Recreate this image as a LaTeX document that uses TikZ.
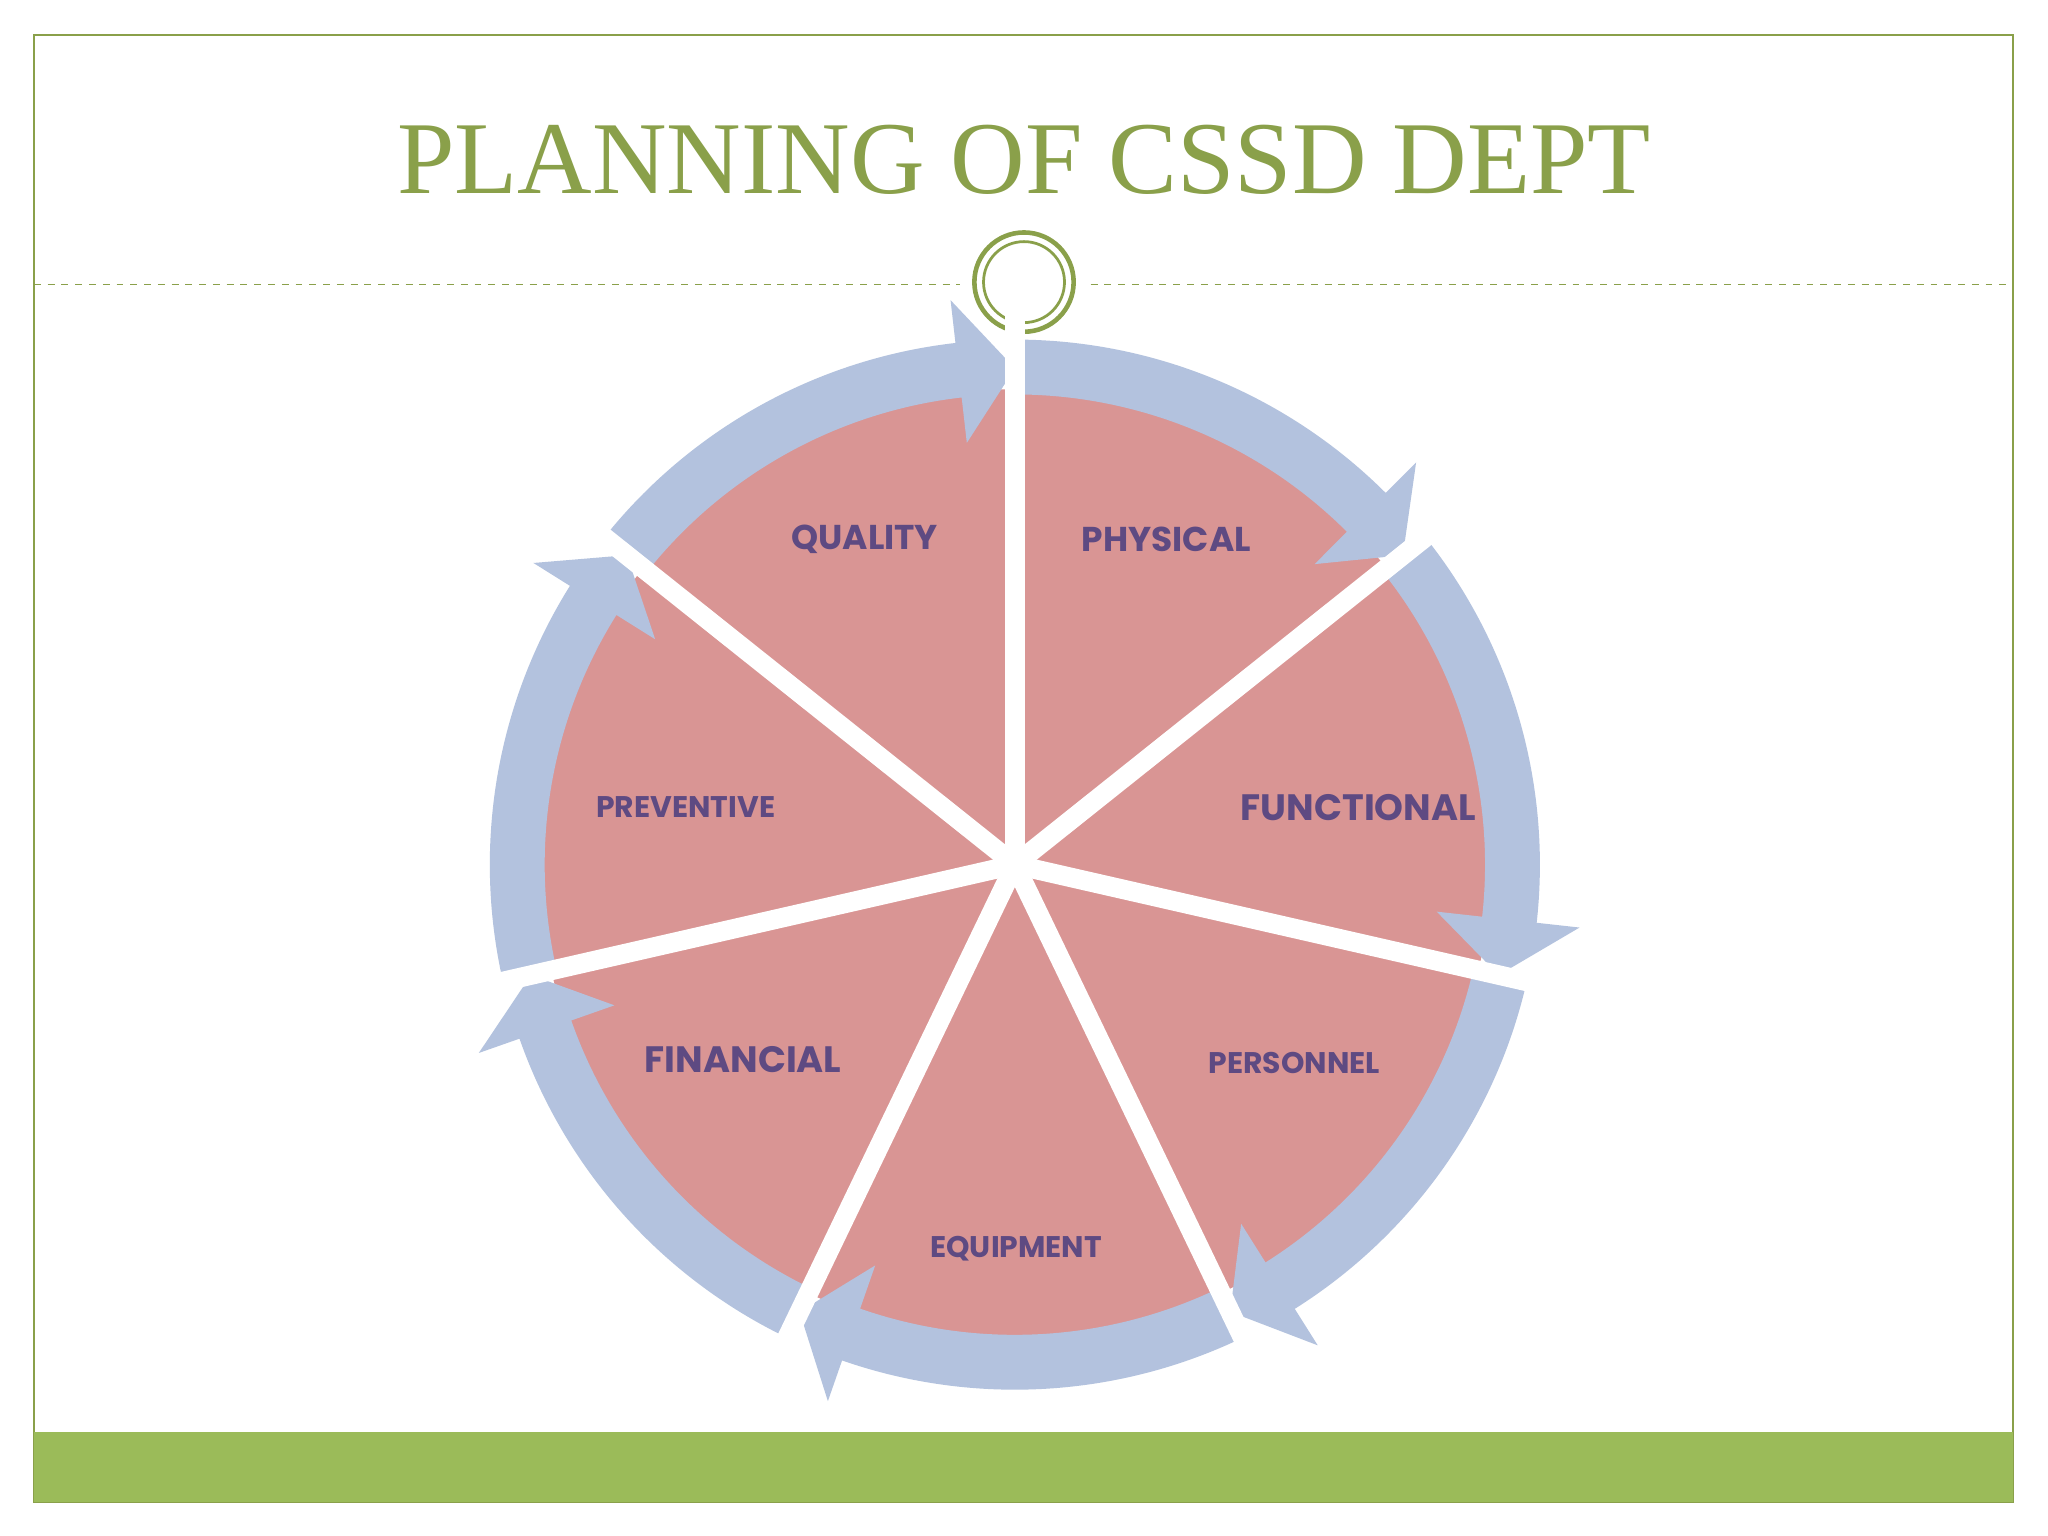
\documentclass[tikz,border=0pt]{standalone}
\usepackage{fontspec}
\setmainfont{Liberation Serif}
\newfontfamily\lblfont{Poppins}
\definecolor{olive}{HTML}{8AA04A}
\definecolor{barg}{HTML}{9BBB59}
\definecolor{ringb}{HTML}{B3C2DE}
\definecolor{pinkw}{HTML}{D99594}
\definecolor{purp}{HTML}{5E4A82}
\begin{document}
\begin{tikzpicture}[x=0.02cm,y=0.02cm,
  lbl/.style={text=purp,font=\lblfont\bfseries}]
\useasboundingbox (0,0) rectangle (1568,1176);
\fill[white] (0,0) rectangle (1568,1176);
\draw[olive,line width=0.8pt] (26,26) rectangle (1541,1149);
\fill[barg] (26,26) rectangle (1541,80);
\node (title) [text=olive,font=\fontsize{45}{50}\selectfont] at (784,1054) {PLANNING OF CSSD DEPT};
\draw[olive,dashed,line width=0.6pt] (26,958) -- (735,958) (835,958) -- (1541,958);
\draw[olive,line width=2pt] (784,960) circle (38);
\draw[olive,line width=1.2pt] (784,960) circle (31);
\begin{scope}[shift={(777,514)}]
\fill[pinkw] (0,0) circle (364);
\foreach \k in {0,...,6}{
  \pgfmathsetmacro{\s}{90-51.4286*\k}
  \pgfmathsetmacro{\e}{\s-51.4286}
  \pgfmathsetmacro{\b}{\e+6.5}
  \fill[ringb] (\s:360) arc[start angle=\s,end angle=\b,radius=360] -- (\b:325) -- (\e:380) -- (\b:435) -- (\b:402) arc[start angle=\b,end angle=\s,radius=402] -- cycle;
}
\foreach \k in {0,...,6}{
  \pgfmathsetmacro{\s}{90-51.4286*\k}
  \draw[white,line width=8.5pt] (0,0) -- (\s:450);
}
\end{scope}
\node (quality) [lbl,font=\lblfont\bfseries\fontsize{15}{18}\selectfont] at (662,763) {QUALITY};
\node (physical) [lbl,font=\lblfont\bfseries\fontsize{15}{18}\selectfont] at (893,763) {PHYSICAL};
\node (functional) [lbl,font=\lblfont\bfseries\fontsize{16}{18}\selectfont] at (1040,558) {FUNCTIONAL};
\node (personnel) [lbl,font=\lblfont\bfseries\fontsize{13}{16}\selectfont] at (991,362) {PERSONNEL};
\node (equipment) [lbl,font=\lblfont\bfseries\fontsize{13}{16}\selectfont] at (778,220) {EQUIPMENT};
\node (financial) [lbl,font=\lblfont\bfseries\fontsize{16}{18}\selectfont] at (569,365) {FINANCIAL};
\node (preventive) [lbl,font=\lblfont\bfseries\fontsize{13}{16}\selectfont] at (525,558) {PREVENTIVE};
\end{tikzpicture}
\end{document}
